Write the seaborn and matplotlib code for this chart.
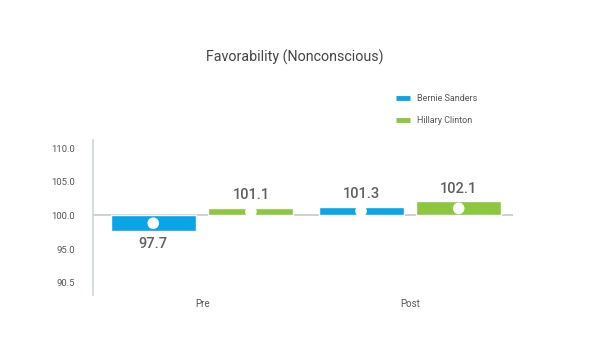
import pandas as pd
import matplotlib.pyplot as plt
import seaborn as sns
from matplotlib.lines import Line2D

# Data
phases = ['Pre', 'Post']
candidates = ['Bernie Sanders', 'Hillary Clinton']
bernie = [97.7, 101.3]
hillary = [101.1, 102.1]
baseline = 100.0
ytick_labels = ['90.5', '95.0', '100.0', '105.0', '110.0']
colors = ['#0ba4e6', '#8dc63f']

df = pd.DataFrame({
    'Phase': phases * 2,
    'Candidate': [candidates[0]] * 2 + [candidates[1]] * 2,
    'Value': bernie + hillary,
})
# bars grow from the 100 baseline
df['Delta'] = df['Value'] - baseline

sns.set_style('white')
plt.rcParams['font.family'] = ['Roboto', 'DejaVu Sans']

fig = plt.figure(figsize=(5.9, 3.58), dpi=100)
ax = fig.add_axes([0.158, 0.176, 0.711, 0.433])

sns.barplot(data=df, x='Phase', y='Delta', hue='Candidate', order=phases,
            hue_order=candidates, palette=colors, width=0.94, gap=0.13,
            saturation=1, legend=False, ax=ax)

ax.axhline(0, color='#c8c8c8', lw=1.2, zorder=0.5)

# value labels and white dots in the middle of each bar
for cont, cand in zip(ax.containers, candidates):
    vals = df[df['Candidate'] == cand]['Value'].tolist()
    ax.bar_label(cont, labels=[f'{v:.1f}' for v in vals], padding=4,
                 fontsize=10.5, color='#5f5f5f', fontweight='medium')
    for p in cont:
        cx = p.get_x() + p.get_width() / 2
        cy = p.get_y() + p.get_height() / 2
        ax.scatter(cx, cy, s=70, color='white', zorder=3, edgecolor='none')

ax.set_xlim(-0.524, 1.495)
ax.set_ylim(-11.8, 11.2)
ax.set_yticks([-10, -5, 0, 5, 10])
ax.set_yticklabels(ytick_labels)
ax.tick_params(axis='y', labelsize=6.8, labelcolor='#555555', length=0, pad=13)
ax.tick_params(axis='x', labelsize=7, labelcolor='#555555', length=0, pad=3)
ax.set_xlabel('')
ax.set_ylabel('')

for s in ['top', 'right', 'bottom']:
    ax.spines[s].set_visible(False)
ax.spines['left'].set_color('#cfd6d8')
ax.spines['left'].set_linewidth(1.2)

fig.suptitle('Favorability (Nonconscious)', x=0.5, y=0.862, fontsize=10.3,
             color='#444444')

handles = [Line2D([0], [0], color=c, lw=3.5, solid_capstyle='butt') for c in colors]
fig.legend(handles, candidates, loc='upper left', bbox_to_anchor=(0.658, 0.76),
           frameon=False, fontsize=6.5, handlelength=1.5, handletextpad=0.8,
           labelspacing=1.4, labelcolor='#555555')

fig.savefig('out.png', dpi=100)
